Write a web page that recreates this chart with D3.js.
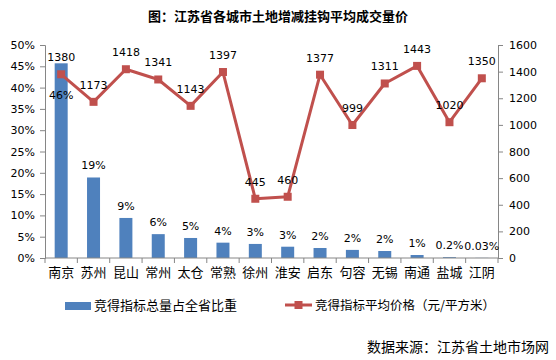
<!DOCTYPE html>
<html><head><meta charset="utf-8">
<script src="https://cdn.jsdelivr.net/npm/d3@7"></script>
<style>
body{margin:0;background:#fff;}
svg{display:block;}
.num{font-family:"DejaVu Sans",sans-serif;font-size:11px;fill:#000;}
.cjk{font-family:"Noto Sans CJK SC",sans-serif;fill:#000;}
</style></head>
<body>
<svg id="c" width="556" height="360"></svg>
<script>
const cities = ["南京","苏州","昆山","常州","太仓","常熟","徐州","淮安","启东","句容","无锡","南通","盐城","江阴"];
const share = [45.7,18.9,9.4,5.6,4.7,3.6,3.3,2.65,2.35,1.9,1.64,0.7,0.2,0.03];
const price = [1380,1173,1418,1341,1143,1397,445,460,1377,999,1311,1443,1020,1350];
const leftTicks = [0,5,10,15,20,25,30,35,40,45,50];
const rightTicks = [0,200,400,600,800,1000,1200,1400,1600];
const title = "图：江苏省各城市土地增减挂钩平均成交量价";
const legendBar = "竞得指标总量占全省比重";
const legendLine = "竞得指标平均价格（元/平方米）";
const source = "数据来源：江苏省土地市场网";

const blue = "#4F81BD", red = "#C0504D", axisC = "#868686";
const svg = d3.select("#c");
const L = 45, R = 498, T = 45, B = 258;

const xb = d3.scaleBand().domain(cities).range([L, R]);
const yL = d3.scaleLinear().domain([0,50]).range([B, T]);
const yR = d3.scaleLinear().domain([0,1600]).range([B, T]);

// title
svg.append("text").attr("class","cjk").attr("x",278).attr("y",21)
  .attr("text-anchor","middle").attr("font-size",13).attr("font-weight","bold").text(title);

// bars
svg.selectAll("rect.bar").data(cities).join("rect").attr("class","bar")
  .attr("x", d => xb(d) + xb.bandwidth()/2 - 6.5).attr("width", 13)
  .attr("y", (d,i) => yL(share[i])).attr("height", (d,i) => B - yL(share[i]))
  .attr("fill", blue);

// left axis
const ga = svg.append("g").attr("transform",`translate(${L},0)`)
  .call(d3.axisLeft(yL).tickValues(leftTicks).tickSize(5).tickPadding(5).tickFormat(d => d + "%"));
// right axis
const gr = svg.append("g").attr("transform",`translate(${R},0)`)
  .call(d3.axisRight(yR).tickValues(rightTicks).tickSize(5).tickPadding(6).tickFormat(d3.format("d")));
// bottom axis
const gb = svg.append("g").attr("transform",`translate(0,${B})`)
  .call(d3.axisBottom(xb).tickSize(0).tickPadding(10));
gb.selectAll(".tick text").attr("class","cjk").attr("font-size",13);
svg.append("g").selectAll("line").data(cities.concat(["_end"])).join("line")
  .attr("x1",(d,i)=>L + i*xb.step()).attr("x2",(d,i)=>L + i*xb.step())
  .attr("y1",B).attr("y2",B+5).attr("stroke",axisC);
[ga,gr,gb].forEach(g=>{
  g.select(".domain").attr("stroke",axisC);
  g.selectAll(".tick line").attr("stroke",axisC);
});
ga.selectAll(".tick text").attr("class","num").attr("fill","#000");
gr.selectAll(".tick text").attr("class","num").attr("fill","#000");
gb.selectAll(".tick text").attr("fill","#000");
gb.select(".domain").attr("d",`M${L},0H${R}`);

// bar labels
const fmtShare = v => (v >= 0.5 ? Math.round(v) : v) + "%";
svg.selectAll("text.bl").data(cities).join("text").attr("class","num bl")
  .attr("x", d => xb(d) + xb.bandwidth()/2)
  .attr("y", (d,i) => i === 0 ? yL(share[i]) + 36 : yL(share[i]) - 8)
  .attr("text-anchor","middle").attr("font-size",11)
  .text((d,i) => fmtShare(share[i]));

// line
const cx = d => xb(d) + xb.bandwidth()/2;
const line = d3.line().x((d,i)=>cx(cities[i])).y(d=>yR(d));
svg.append("path").datum(price).attr("d",line).attr("fill","none")
  .attr("stroke",red).attr("stroke-width",3).attr("stroke-linejoin","round");
svg.selectAll("rect.mk").data(price).join("rect").attr("class","mk")
  .attr("x",(d,i)=>cx(cities[i])-4).attr("y",d=>yR(d)-4)
  .attr("width",8).attr("height",8).attr("fill",red);
svg.selectAll("text.pl").data(price).join("text").attr("class","num pl")
  .attr("x",(d,i)=>cx(cities[i])).attr("y",d=>yR(d)-13)
  .attr("text-anchor","middle").text(d=>d);

// legend
svg.append("rect").attr("x",65).attr("y",302).attr("width",26).attr("height",8).attr("fill",blue);
svg.append("text").attr("class","cjk").attr("x",94).attr("y",310).attr("font-size",13).text(legendBar);
svg.append("line").attr("x1",285).attr("x2",312).attr("y1",305).attr("y2",305).attr("stroke",red).attr("stroke-width",3);
svg.append("rect").attr("x",294.5).attr("y",301).attr("width",8).attr("height",8).attr("fill",red);
svg.append("text").attr("class","cjk").attr("x",315).attr("y",309.5).attr("font-size",12.5).text(legendLine);

// source
svg.append("text").attr("class","cjk").attr("x",549).attr("y",352)
  .attr("text-anchor","end").attr("font-size",14).text(source);
</script>
</body></html>
